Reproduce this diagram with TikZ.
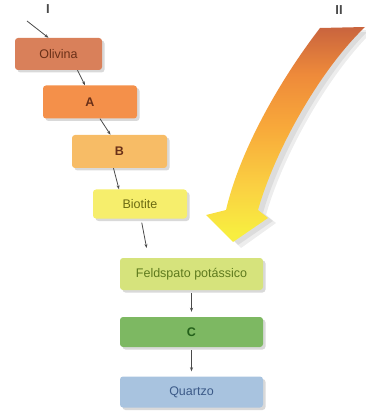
\documentclass[tikz,border=0pt]{standalone}
\usepackage{fontspec}
\setmainfont{Liberation Sans}
\usetikzlibrary{arrows.meta,shadows}
\definecolor{olivc}{HTML}{D9805A}
\definecolor{ac}{HTML}{F4904A}
\definecolor{bc}{HTML}{F7BC66}
\definecolor{bioc}{HTML}{F6EE6C}
\definecolor{feldc}{HTML}{D6E37C}
\definecolor{cc}{HTML}{7DB862}
\definecolor{qc}{HTML}{A8C3DF}
\definecolor{brtxt}{HTML}{6A3018}
\definecolor{oltxt}{HTML}{6B6A12}
\definecolor{fetxt}{HTML}{5E7A1E}
\definecolor{gtxt}{HTML}{23601A}
\definecolor{qtxt}{HTML}{3C5A88}
\definecolor{arrc}{HTML}{4A4A4A}
\definecolor{bigtop}{HTML}{C9643E}
\definecolor{bigup}{HTML}{EE8A3A}
\definecolor{bigmid}{HTML}{F8A83A}
\definecolor{biglow}{HTML}{FAD042}
\definecolor{bigbot}{HTML}{F8EE40}
\pgfdeclareverticalshading{bigarrowshade}{100bp}{color(0bp)=(bigbot); color(27bp)=(bigbot); color(38bp)=(biglow); color(52bp)=(bigmid); color(64bp)=(bigup); color(75bp)=(bigtop); color(100bp)=(bigtop)}
\tikzset{
  mineral/.style={rectangle, rounded corners=3pt, inner sep=0pt, font=\fontsize{12.5}{14}\selectfont,
    drop shadow={shadow xshift=2.5pt, shadow yshift=-2.5pt, opacity=0.3}},
  conn/.style={draw=arrc, line width=0.8pt, -{Stealth[length=4pt,width=3pt]}},
  serlabel/.style={font=\bfseries\fontsize{13}{15}\selectfont, text=arrc}
}
\begin{document}
\begin{tikzpicture}[x=1pt,y=-1pt]
\useasboundingbox (0,0) rectangle (365,419);
% big curved arrow: shadow
\fill[black,opacity=0.07] (328,33) .. controls (288,85) and (248,155) .. (234,215)
  -- (214,220) -- (241,248) -- (276,223) -- (266,215)
  .. controls (283,155) and (328,75) .. (372,32) -- cycle;
\fill[black,opacity=0.07] (325,31) .. controls (285,83) and (245,153) .. (231,213)
  -- (211,218) -- (238,245) -- (273,221) -- (263,213)
  .. controls (280,153) and (325,73) .. (369,30) -- cycle;
% big curved arrow
\shade[shading=bigarrowshade]
  (320,28) .. controls (280,80) and (240,150) .. (226,210)
  -- (206,215) -- (233,242) -- (268,218) -- (258,210)
  .. controls (275,150) and (320,70) .. (365,27) -- cycle;
% labels
\node[serlabel] (lI) at (48,9) {I};
\node[serlabel] (lII) at (339,10) {II};
\coordinate (s1) at (27,21);
% boxes
\node[mineral, fill=olivc, text=brtxt, minimum width=87pt, minimum height=32pt] (ol) at (58.5,54) {Olivina};
\node[mineral, fill=ac, text=brtxt, minimum width=94pt, minimum height=33pt] (a) at (90,102) {\bfseries A};
\node[mineral, fill=bc, text=brtxt, minimum width=95pt, minimum height=33pt] (b) at (119.5,151.5) {\bfseries B};
\node[mineral, fill=bioc, text=oltxt, minimum width=94pt, minimum height=29pt] (bio) at (140,204) {Biotite};
\node[mineral, fill=feldc, text=fetxt, minimum width=143pt, minimum height=32pt] (fel) at (191.5,274) {Feldspato potássico};
\node[mineral, fill=cc, text=gtxt, minimum width=143pt, minimum height=30pt] (c) at (191.5,332) {\bfseries C};
\node[mineral, fill=qc, text=qtxt, minimum width=143pt, minimum height=31pt] (q) at (191.5,392) {Quartzo};
% connectors
\draw[conn] (s1) -- ([xshift=-10pt]ol.north);
\draw[conn] ([xshift=19pt]ol.south) -- ([xshift=-5pt]a.north);
\draw[conn] ([xshift=10pt]a.south) -- ([xshift=-9pt]b.north);
\draw[conn] ([xshift=-6pt]b.south) -- ([xshift=-21pt]bio.north);
\draw[conn, shorten <=4pt, shorten >=10pt] ([xshift=1pt]bio.south) -- ([xshift=-43pt]fel.north);
\draw[conn, shorten <=3pt, shorten >=5pt] (fel.south) -- (c.north);
\draw[conn, shorten <=3pt, shorten >=5pt] (c.south) -- (q.north);
\end{tikzpicture}
\end{document}
